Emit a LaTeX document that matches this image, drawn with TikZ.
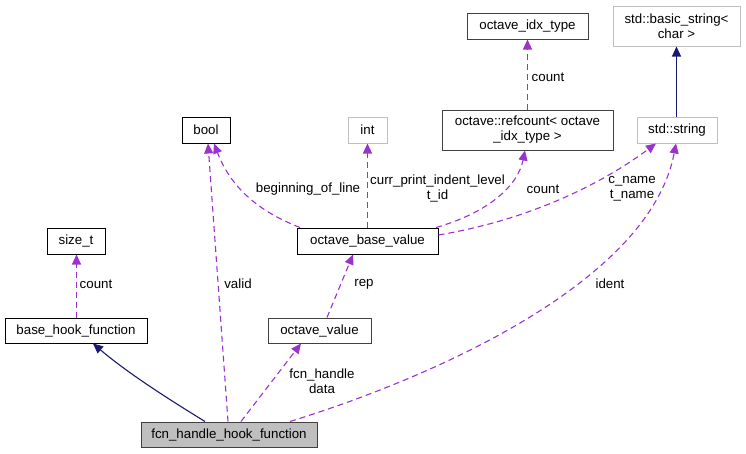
\documentclass[tikz,border=0pt]{standalone}
\usepackage{fontspec}
\setmainfont{Liberation Sans}
\usetikzlibrary{arrows.meta}
\definecolor{edgepurple}{HTML}{9A32CD}
\definecolor{edgenavy}{HTML}{191970}
\definecolor{lightgrayb}{HTML}{BFBFBF}
\definecolor{darkgrayb}{HTML}{404040}
\tikzset{
  box/.style={draw, line width=1pt, inner sep=0pt, align=center,
    font=\fontsize{13.3}{15}\selectfont},
  docbox/.style={box, draw=black},
  graybox/.style={box, draw=lightgrayb},
  darkbox/.style={box, draw=darkgrayb},
  usage/.style={draw=edgepurple, line width=1.1pt, dash pattern=on 6pt off 4pt,
    -{Triangle[length=10pt,width=9pt,fill=edgepurple]}},
  inherit/.style={draw=edgenavy, line width=1.1pt,
    -{Triangle[length=10pt,width=9pt,fill=edgenavy]}},
  lbl/.style={inner sep=0pt, align=center, font=\fontsize{13.3}{15}\selectfont}
}
\begin{document}
\begin{tikzpicture}[x=1pt,y=-1pt]
\useasboundingbox (0,0) rectangle (746,453);
% nodes
\node[docbox, minimum width=48pt, minimum height=26pt] (bool) at (206,130) {bool};
\node[graybox, minimum width=39pt, minimum height=26pt] (int) at (367.5,130) {int};
\node[darkbox, minimum width=121pt, minimum height=26pt] (idx) at (527.5,26) {octave\_idx\_type};
\node[graybox, minimum width=127pt, minimum height=40pt] (bstr) at (676.5,26) {std::basic\_string<\\char >};
\node[darkbox, minimum width=171pt, minimum height=40pt] (ref) at (527.5,130) {octave::refcount< octave\\\_idx\_type >};
\node[graybox, minimum width=80pt, minimum height=26pt] (str) at (677,130) {std::string};
\node[docbox, minimum width=58pt, minimum height=26pt] (size) at (76,241) {size\_t};
\node[docbox, minimum width=142pt, minimum height=25pt] (base) at (76,330.5) {base\_hook\_function};
\node[darkbox, minimum width=103pt, minimum height=25pt] (oval) at (319.5,330.5) {octave\_value};
\node[docbox, minimum width=141pt, minimum height=26pt] (obv) at (367.5,241) {octave\_base\_value};
\node[darkbox, fill=lightgrayb, minimum width=176pt, minimum height=25pt] (fcn) at (229,434.5) {fcn\_handle\_hook\_function};
% edges
\draw[inherit] ([xshift=-24pt]fcn.north) .. controls (175,403) and (130,375) .. ([xshift=17pt]base.south);
\draw[usage] ([xshift=-1pt]fcn.north) -- ([xshift=2pt]bool.south);
\draw[usage] ([xshift=12pt]fcn.north) -- ([xshift=-18.5pt]oval.south);
\draw[usage] ([xshift=61pt]fcn.north) .. controls (440,375) and (650,280) .. ([xshift=-1pt]str.south);
\draw[usage] ([xshift=0.5pt]base.north) -- ([xshift=0.5pt]size.south);
\draw[usage] ([xshift=7.5pt]oval.north) -- ([xshift=-14.5pt]obv.south);
\draw[usage] ([xshift=-67.5pt]obv.north) .. controls (255,210) and (230,185) .. ([xshift=8pt]bool.south);
\draw[usage] (obv.north) -- (int.south);
\draw[usage] ([xshift=68.5pt]obv.north) .. controls (490,212) and (518,185) .. ([xshift=-2.5pt]ref.south);
\draw[usage] ([yshift=6pt]obv.east) .. controls (528,220) and (600,185) .. ([xshift=-21pt]str.south);
\draw[usage] (ref.north) -- (idx.south);
\draw[inherit] ([xshift=-0.5pt]str.north) -- ([xshift=0pt]bstr.south);
% labels
\node[lbl] (lvalid) at (238,284) {valid};
\node[lbl] (lfcnh) at (322,381.5) {fcn\_handle\\data};
\node[lbl] (lident) at (610,284) {ident};
\node[lbl] (lcount1) at (96,284) {count};
\node[lbl] (lrep) at (364,284) {rep};
\node[lbl] (lbol) at (308,189) {beginning\_of\_line};
\node[lbl] (lcurr) at (437.5,188.5) {curr\_print\_indent\_level\\t\_id};
\node[lbl] (lcount2) at (543,189) {count};
\node[lbl] (lcname) at (632,188.5) {c\_name\\t\_name};
\node[lbl] (lcount3) at (548,77) {count};
\end{tikzpicture}
\end{document}
